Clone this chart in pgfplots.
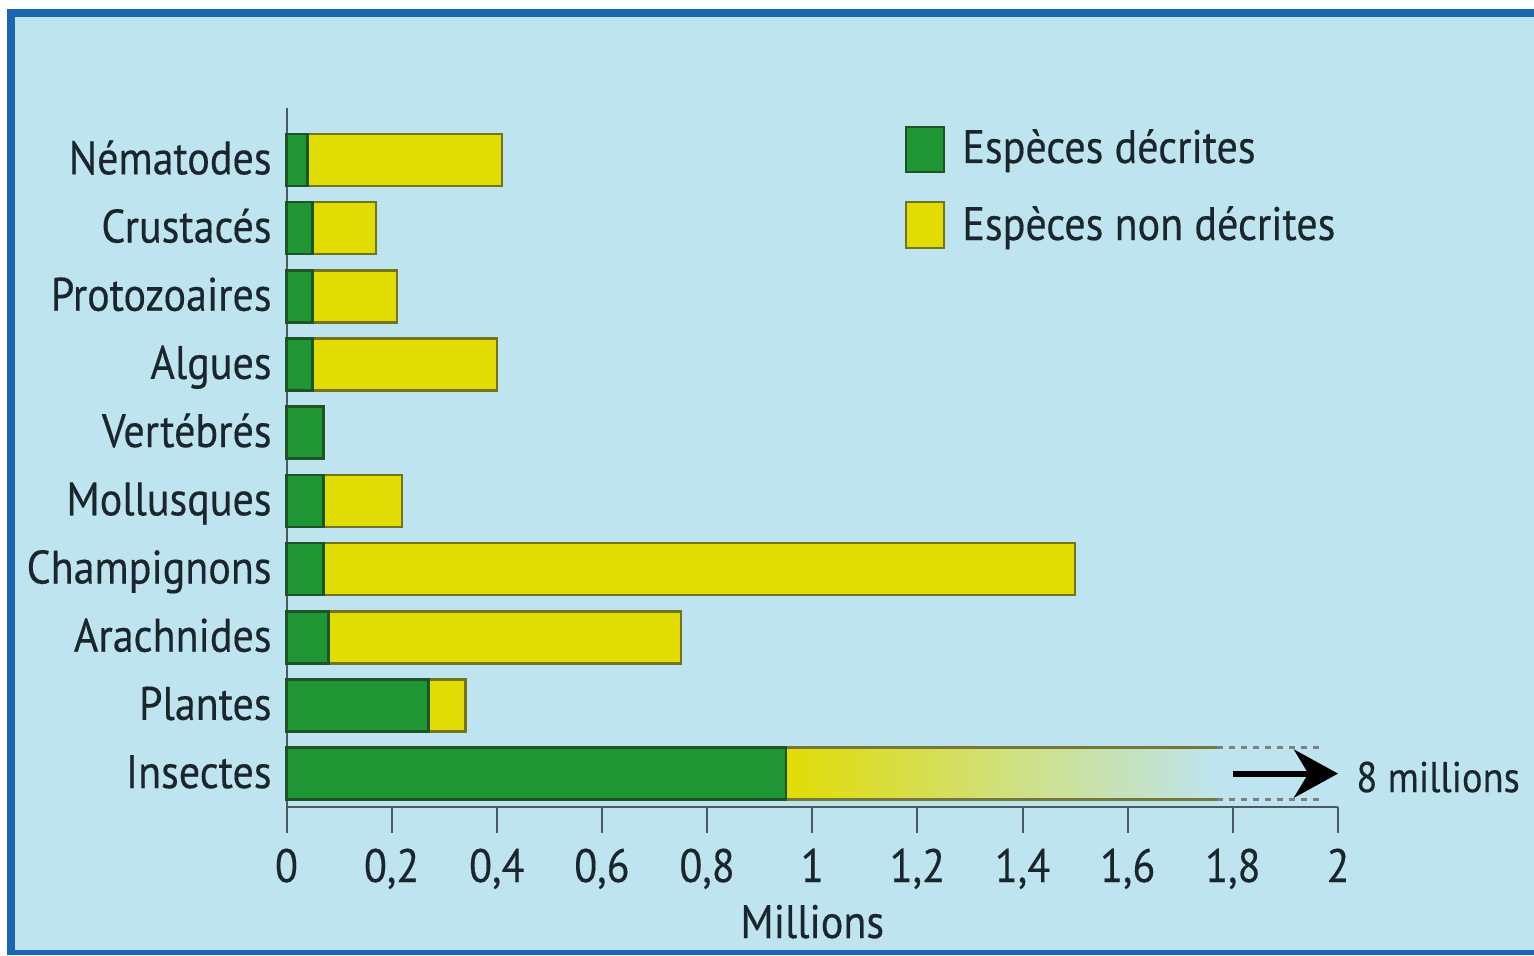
\documentclass[border=0pt]{standalone}
\usepackage{fontspec}
\setmainfont{PT Sans}[FakeStretch=0.895, FakeBold=0.3]
\usepackage{pgfplots}
\pgfplotsset{compat=1.18}
\usetikzlibrary{arrows.meta}
\definecolor{bgc}{HTML}{BEE4EF}
\definecolor{bordc}{HTML}{1A66B3}
\definecolor{grn}{HTML}{1F9633}
\definecolor{grnd}{HTML}{1C5426}
\definecolor{yel}{HTML}{E2DC05}
\definecolor{yeld}{HTML}{75741C}
\definecolor{txt}{HTML}{1A262B}
\definecolor{axc}{HTML}{4B5A60}
\newcommand\lbl{\fontsize{23.5}{28}\selectfont}
\begin{document}
\begin{tikzpicture}[x=1pt,y=1pt]
\useasboundingbox (0,0) rectangle (767,477.5);
\fill[white] (0,0) rectangle (772,477.5);
\fill[bordc] (3.5,0) rectangle (772,473);
\fill[bgc] (7.5,2.5) rectangle (772,469);
\begin{axis}[
  at={(143.25pt,74pt)}, anchor=south west,
  scale only axis, width=525.75pt, height=349.5pt,
  xmin=0, xmax=2, ymin=-0.49, ymax=9.76,
  clip=false,
  axis x line=bottom, axis y line=left,
  axis line style={-, draw=axc, line width=1pt},
  tick align=outside, major tick length=13pt,
  xtick={0,0.2,0.4,0.6,0.8,1,1.2,1.4,1.6,1.8,2},
  xtick style={draw=axc, line width=1pt},
  ytick={0,1,2,3,4,5,6,7,8,9},
  yticklabels={Insectes,Plantes,Arachnides,Champignons,Mollusques,Vertébrés,Algues,Protozoaires,Crustacés,Nématodes},
  ytick style={draw=none},
  /pgf/number format/use comma,
  /pgf/number format/fixed,
  /pgf/number format/precision=1,
  /pgf/number format/assume math mode=true,
  xticklabel style={font=\lbl, text=txt, anchor=base, yshift=-24.5pt},
  yticklabel style={font=\lbl, text=txt, anchor=base east, inner sep=0pt, xshift=5.75pt, yshift=-7.25pt},
  xlabel={Millions},
  xlabel style={font=\lbl, text=txt, at={(axis description cs:0.5,0)}, anchor=base, yshift=-65.5pt},
]
% totals (décrites + non décrites)
\addplot[xbar, bar width=26pt, bar shift=0pt, fill=yel, draw=yeld, line width=1.3pt]
  coordinates {(0.34,1) (0.75,2) (1.50,3) (0.22,4) (0.07,5) (0.40,6) (0.21,7) (0.17,8) (0.41,9)};
% insectes: non décrites (8 millions, truncated)
\addplot[draw=none, left color=yel, middle color=yel!60!bgc, right color=bgc]
  coordinates {(0.95,-0.381) (1.77,-0.381) (1.77,0.381) (0.95,0.381)} -- cycle;
\addplot[yeld!70!gray, line width=1.3pt] coordinates {(0.95,0.381) (1.77,0.381)};
\addplot[yeld!70!gray, line width=1.3pt] coordinates {(0.95,-0.381) (1.77,-0.381)};
\addplot[gray, dashed, line width=1.3pt] coordinates {(1.77,0.381) (1.97,0.381)};
\addplot[gray, dashed, line width=1.3pt] coordinates {(1.77,-0.381) (1.97,-0.381)};
% décrites
\addplot[xbar, bar width=26pt, bar shift=0pt, fill=grn, draw=grnd, line width=1.3pt]
  coordinates {(0.95,0) (0.27,1) (0.08,2) (0.07,3) (0.07,4) (0.07,5) (0.05,6) (0.05,7) (0.05,8) (0.04,9)};
\addplot[black, line width=3pt, -{Stealth[length=22pt,width=24pt]}] coordinates {(1.80,0) (2.0,0)};
\node[anchor=base west, font=\fontsize{21.5}{26}\selectfont, text=txt, inner sep=0pt] at (axis cs:2,0) [xshift=9pt, yshift=-9.25pt] {8 millions};
\end{axis}
\filldraw[fill=grn, draw=grnd, line width=1.3pt] (453,391.5) rectangle (472,414);
\filldraw[fill=yel, draw=yeld, line width=1.3pt] (453,353.5) rectangle (472,376.5);
\node[anchor=base west, font=\lbl, text=txt, inner sep=0pt] at (481,396) {Espèces décrites};
\node[anchor=base west, font=\lbl, text=txt, inner sep=0pt] at (481,357.5) {Espèces non décrites};
\end{tikzpicture}
\end{document}
